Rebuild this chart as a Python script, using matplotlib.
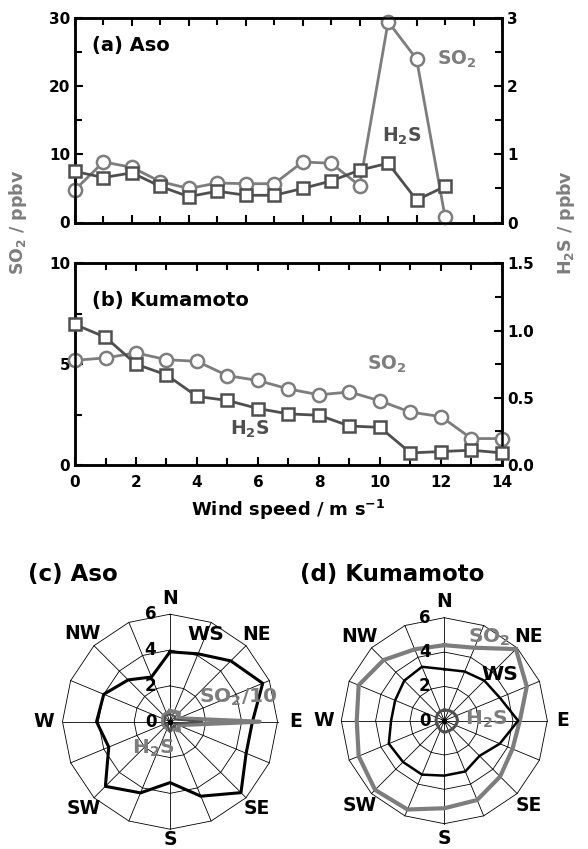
import numpy as np
import matplotlib
matplotlib.use("Agg")
import matplotlib.pyplot as plt
from matplotlib.ticker import MultipleLocator

plt.rcParams['font.family'] = ['DejaVu Sans']
plt.rcParams['font.weight'] = 'bold'
plt.rcParams['axes.labelweight'] = 'bold'
plt.rcParams['mathtext.fontset'] = 'dejavusans'
plt.rcParams['mathtext.default'] = 'bf'

# ---------------- data ----------------
wind_aso = [0, 1, 2, 3, 4, 5, 6, 7, 8, 9, 10, 11, 12, 13]
so2_aso = [4.8, 8.9, 8.1, 6.0, 5.0, 5.8, 5.7, 5.7, 8.9, 8.7, 5.4, 29.5, 24.0, 0.8]
h2s_aso = [0.75, 0.66, 0.73, 0.53, 0.38, 0.46, 0.40, 0.40, 0.50, 0.61, 0.77, 0.87, 0.33, 0.53]

wind_kum = [0, 1, 2, 3, 4, 5, 6, 7, 8, 9, 10, 11, 12, 13, 14]
so2_kum = [5.19, 5.31, 5.56, 5.22, 5.14, 4.43, 4.19, 3.77, 3.48, 3.62, 3.18, 2.62, 2.40, 1.31, 1.31]
h2s_kum = [1.045, 0.95, 0.75, 0.67, 0.51, 0.48, 0.42, 0.38, 0.37, 0.29, 0.28, 0.09, 0.10, 0.11, 0.09]

directions = ['N', 'NNE', 'NE', 'ENE', 'E', 'ESE', 'SE', 'SSE',
              'S', 'SSW', 'SW', 'WSW', 'W', 'WNW', 'NW', 'NNW']
dir_labels = ['N', 'NE', 'E', 'SE', 'S', 'SW', 'W', 'NW']

ws_aso = [3.9, 4.1, 4.8, 5.6, 4.6, 4.6, 5.6, 4.5, 3.4, 4.3, 5.1, 3.7, 4.1, 4.0, 3.3, 2.7]
so2_10_aso = [0.6, 0.6, 0.7, 0.5, 5.0, 0.5, 0.7, 0.4, 0.5, 0.4, 0.4, 0.4, 0.4, 0.4, 0.5, 0.5]
h2s_dir_aso = [0.4, 0.4, 0.4, 0.3, 1.8, 0.3, 0.4, 0.3, 0.6, 0.3, 0.3, 0.3, 0.3, 0.3, 0.4, 0.4]

ws_kum = [3.0, 3.1, 3.3, 3.5, 4.3, 3.5, 2.9, 3.2, 3.2, 3.4, 3.4, 3.5, 3.1, 3.1, 3.3, 3.4]
so2_dir_kum = [4.4, 4.6, 5.9, 5.2, 4.4, 4.3, 4.6, 5.0, 5.1, 5.6, 5.7, 5.4, 5.1, 5.4, 5.0, 4.5]
h2s_dir_kum = [0.62, 0.65, 0.7, 0.75, 0.78, 0.72, 0.68, 0.65, 0.68, 0.6, 0.5, 0.48, 0.48, 0.5, 0.55, 0.6]

ring_values = [2, 4, 6]

# ---------------- style ----------------
C_SO2 = '#7d7d7d'
C_H2S = '#4f4f4f'
W, H = 588, 849

fig = plt.figure(figsize=(W / 100, H / 100), dpi=100)


def frac(x0, y0, x1, y1):
    return [x0 / W, 1 - y1 / H, (x1 - x0) / W, (y1 - y0) / H]


def style_axes(ax, ax2):
    for a in (ax, ax2):
        for s in a.spines.values():
            s.set_linewidth(1.8)
    ax.tick_params(axis='both', which='both', direction='in', width=1.5,
                   labelsize=11, top=True)
    ax.tick_params(which='major', length=6)
    ax.tick_params(which='minor', length=5)
    ax2.tick_params(axis='y', which='both', direction='in', width=1.5, labelsize=11)
    ax2.tick_params(which='major', length=6)
    ax2.tick_params(which='minor', length=5)


# ---------------- panel (a) ----------------
axA = fig.add_axes(frac(75, 18.3, 502, 222.5))
axA2 = axA.twinx()
axA.plot(wind_aso, so2_aso, '-o', color=C_SO2, lw=2, ms=9.5, mfc='white',
         mec=C_SO2, mew=1.8, clip_on=False, zorder=3)
axA2.plot(wind_aso, h2s_aso, '-s', color=C_H2S, lw=2, ms=8, mfc='white',
          mec=C_H2S, mew=1.8, clip_on=False, zorder=3)
axA.set_xlim(0, 15)
axA.set_ylim(0, 30)
axA2.set_ylim(0, 3)
axA.xaxis.set_major_locator(MultipleLocator(2))
axA.xaxis.set_minor_locator(MultipleLocator(1))
axA.yaxis.set_major_locator(MultipleLocator(10))
axA.yaxis.set_minor_locator(MultipleLocator(5))
axA2.yaxis.set_major_locator(MultipleLocator(1))
axA2.yaxis.set_minor_locator(MultipleLocator(0.5))
axA.set_xticklabels([])
style_axes(axA, axA2)
axA.text(0.04, 0.869, '(a) Aso', transform=axA.transAxes, fontsize=14,
         va='center', ha='left')
axA.text(0.848, 0.80, r'SO$_2$', transform=axA.transAxes, fontsize=13.5,
         color=C_SO2, va='center', ha='left')
axA.text(0.719, 0.42, r'H$_2$S', transform=axA.transAxes, fontsize=13.5,
         color=C_H2S, va='center', ha='left')

# ---------------- panel (b) ----------------
axB = fig.add_axes(frac(75, 263.3, 502, 465))
axB2 = axB.twinx()
axB.plot(wind_kum, so2_kum, '-o', color=C_SO2, lw=2, ms=9.5, mfc='white',
         mec=C_SO2, mew=1.8, clip_on=False, zorder=3)
axB2.plot(wind_kum, h2s_kum, '-s', color=C_H2S, lw=2, ms=8, mfc='white',
          mec=C_H2S, mew=1.8, clip_on=False, zorder=3)
axB.set_xlim(0, 14)
axB.set_ylim(0, 10)
axB2.set_ylim(0, 1.5)
axB.xaxis.set_major_locator(MultipleLocator(2))
axB.xaxis.set_minor_locator(MultipleLocator(1))
axB.yaxis.set_major_locator(MultipleLocator(5))
axB.yaxis.set_minor_locator(MultipleLocator(2.5))
axB2.yaxis.set_major_locator(MultipleLocator(0.5))
axB2.yaxis.set_minor_locator(MultipleLocator(0.25))
axB2.yaxis.set_major_formatter(matplotlib.ticker.FormatStrFormatter('%.1f'))
style_axes(axB, axB2)
axB.tick_params(axis='x', pad=7)
axB.set_xlabel(r'Wind speed / m s$^{-1}$', fontsize=13, labelpad=6)
axB.text(0.04, 0.818, '(b) Kumamoto', transform=axB.transAxes, fontsize=14,
         va='center', ha='left')
axB.text(0.684, 0.50, r'SO$_2$', transform=axB.transAxes, fontsize=13.5,
         color=C_SO2, va='center', ha='left')
axB.text(0.363, 0.178, r'H$_2$S', transform=axB.transAxes, fontsize=13.5,
         color=C_H2S, va='center', ha='left')

fig.text(18 / W, 1 - 222 / H, r'SO$_2$ / ppbv', rotation=90, fontsize=12.5,
         color=C_SO2, ha='center', va='center')
fig.text(566 / W, 1 - 222 / H, r'H$_2$S / ppbv', rotation=90, fontsize=12.5,
         color=C_SO2, ha='center', va='center')

# ---------------- polar panels ----------------
theta = np.deg2rad(np.arange(len(directions)) * 22.5)
theta_c = np.append(theta, theta[0])


def closed(v):
    return np.append(v, v[0])


def radar_base(rect, label_r):
    ax = fig.add_axes(rect, projection='polar')
    ax.set_theta_zero_location('N')
    ax.set_theta_direction(-1)
    ax.set_ylim(0, 6)
    ax.grid(False)
    ax.set_xticks([])
    ax.set_yticks([])
    ax.spines['polar'].set_visible(False)
    ax.patch.set_alpha(0)
    for r in ring_values:
        ax.plot(theta_c, [r] * len(theta_c), color='k', lw=0.6, clip_on=False, zorder=1)
    for t in theta:
        ax.plot([t, t], [0, 6], color='k', lw=0.6, clip_on=False, zorder=1)
    for r in [0] + ring_values:
        ax.annotate(str(r), xy=(0, r), xytext=(-14, 0), textcoords='offset points',
                    fontsize=12, ha='center', va='center', zorder=5)
    for i, lab in enumerate(dir_labels):
        t = np.deg2rad(i * 45)
        ax.text(t, label_r[lab], lab, fontsize=13.5, ha='center', va='center',
                clip_on=False)
    ax.plot([0], [0], 'o', color='k', ms=3, zorder=6)
    return ax


lr_c = {'N': 6.85, 'NE': 6.85, 'E': 7.0, 'SE': 6.85, 'S': 6.55,
        'SW': 6.85, 'W': 7.05, 'NW': 6.95}
lr_d = {'N': 6.95, 'NE': 6.95, 'E': 6.9, 'SE': 6.95, 'S': 6.85,
        'SW': 6.95, 'W': 7.0, 'NW': 6.95}

axC = radar_base([62.5 / W, 1 - 829.2 / H, 215 / W, 215 / H], lr_c)
axC.plot(theta_c, closed(ws_aso), color='k', lw=2.2, clip_on=False, zorder=3)
axC.plot(theta_c, closed(so2_10_aso), color=C_SO2, lw=3, clip_on=False, zorder=4)
axC.plot(theta_c, closed(h2s_dir_aso), color=C_H2S, lw=1.3, clip_on=False, zorder=5)

axD = radar_base([341.3 / W, 1 - 823.7 / H, 206 / W, 206 / H], lr_d)
axD.plot(theta_c, closed(so2_dir_kum), color=C_SO2, lw=3, clip_on=False, zorder=3)
axD.plot(theta_c, closed(ws_kum), color='k', lw=1.8, clip_on=False, zorder=4)
axD.plot(theta_c, closed(h2s_dir_kum), color=C_H2S, lw=2.2, clip_on=False, zorder=5)

fig.text(28 / W, 1 - 575 / H, '(c) Aso', fontsize=16.5, ha='left', va='center')
fig.text(300 / W, 1 - 575 / H, '(d) Kumamoto', fontsize=16.5, ha='left', va='center')
fig.text(206 / W, 1 - 635 / H, 'WS', fontsize=14.5, ha='center', va='center')
fig.text(238 / W, 1 - 697 / H, r'SO$_2$/10', fontsize=14.5, color=C_SO2,
         ha='center', va='center', zorder=10)
fig.text(153 / W, 1 - 748 / H, r'H$_2$S', fontsize=14.5, color=C_SO2,
         ha='center', va='center', zorder=10)
fig.text(489 / W, 1 - 637 / H, r'SO$_2$', fontsize=14.5, color=C_SO2,
         ha='center', va='center', zorder=10)
fig.text(500 / W, 1 - 674 / H, 'WS', fontsize=14.5, ha='center', va='center', zorder=10)
fig.text(486 / W, 1 - 719 / H, r'H$_2$S', fontsize=14.5, color=C_SO2,
         ha='center', va='center', zorder=10)

fig.savefig('out.png', dpi=100)
